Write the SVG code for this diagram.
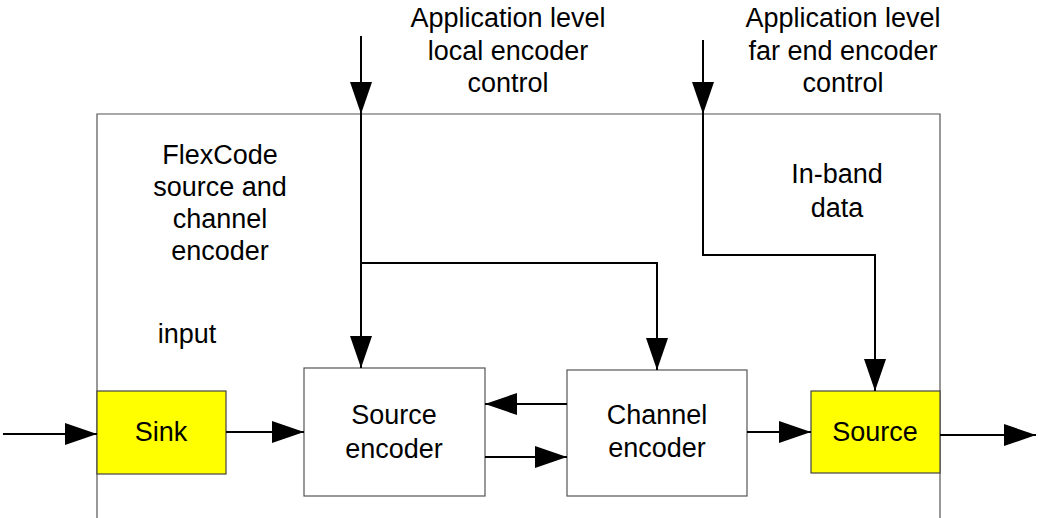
<svg xmlns="http://www.w3.org/2000/svg" width="1038" height="518" viewBox="0 0 1038 518">
<style>
  .lbl { font-family: "Liberation Sans", Arial, sans-serif; font-size: 27px; fill: #000; text-anchor: middle; }
  .box { fill: #fff; stroke: #555; stroke-width: 1.2; }
  .ybox { fill: #ffff00; stroke: #444; stroke-width: 1.2; }
  .conn { fill: none; stroke: #000; stroke-width: 2; marker-end: url(#ah); }
</style>
<defs>
  <marker id="ah" markerUnits="userSpaceOnUse" markerWidth="34" markerHeight="24" refX="32" refY="11" orient="auto">
    <path d="M0,0 L32,11 L0,22 z" fill="#000"/>
  </marker>
</defs>
<rect width="1038" height="518" fill="#fff"/>
<g id="outer">
  <path d="M97,518 V114 H940 V518" fill="none" stroke="#555" stroke-width="1.2"/>
  <text class="lbl"><tspan x="220" y="164">FlexCode</tspan><tspan x="220" y="196">source and</tspan><tspan x="220" y="228">channel</tspan><tspan x="220" y="260">encoder</tspan></text>
  <text class="lbl" x="187" y="343">input</text>
  <text class="lbl"><tspan x="837" y="183">In-band</tspan><tspan x="837" y="217">data</tspan></text>
</g>
<g id="labels-top">
  <text class="lbl"><tspan x="508" y="27">Application level</tspan><tspan x="508" y="60">local encoder</tspan><tspan x="508" y="92">control</tspan></text>
  <text class="lbl"><tspan x="843" y="27">Application level</tspan><tspan x="843" y="60">far end encoder</tspan><tspan x="843" y="92">control</tspan></text>
</g>
<g id="sink">
  <rect class="ybox" x="97" y="391" width="129" height="83"/>
  <text class="lbl" x="161" y="441">Sink</text>
</g>
<g id="source-encoder">
  <rect class="box" x="304" y="368" width="181" height="128"/>
  <text class="lbl"><tspan x="394" y="424">Source</tspan><tspan x="394" y="458">encoder</tspan></text>
</g>
<g id="channel-encoder">
  <rect class="box" x="567" y="370" width="180" height="126"/>
  <text class="lbl"><tspan x="657" y="424">Channel</tspan><tspan x="657" y="457">encoder</tspan></text>
</g>
<g id="source">
  <rect class="ybox" x="811" y="391" width="129" height="82"/>
  <text class="lbl" x="875" y="441">Source</text>
</g>
<g id="connectors">
  <path class="conn" d="M3,434 H97"/>
  <path class="conn" d="M226,432 H304"/>
  <path class="conn" d="M567,404 H485"/>
  <path class="conn" d="M485,457 H567"/>
  <path class="conn" d="M747,432 H811"/>
  <path class="conn" d="M940,435 H1036"/>
  <path class="conn" d="M361,36 V114"/>
  <path class="conn" d="M361,114 V368"/>
  <path class="conn" d="M361,263 H657 V370"/>
  <path class="conn" d="M703,40 V114"/>
  <path class="conn" d="M703,114 V255 H875 V391"/>
</g>
</svg>
